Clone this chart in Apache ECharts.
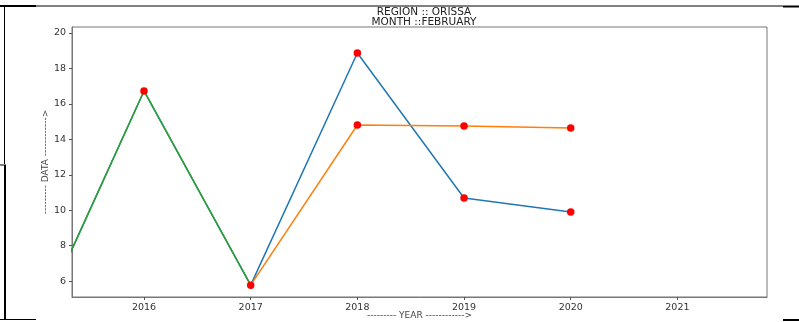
<!DOCTYPE html>
<html>
<head>
<meta charset="utf-8">
<script src="https://cdn.jsdelivr.net/npm/echarts@6/dist/echarts.min.js"></script>
<style>
  html, body { margin: 0; padding: 0; background: #fff; }
  #chart { width: 799px; height: 322px; }
</style>
</head>
<body>
<div id="chart"></div>
<script>
// Yearly rainfall data for Orissa, February
const years = [2015, 2016, 2017, 2018, 2019, 2020];
const actual = [3.5, 16.73, 5.77, 18.87, 10.69, 9.9];
const forecastYears = [2017, 2018, 2019, 2020];
const forecast = [5.77, 14.81, 14.75, 14.64];
const historyYears = [2015, 2016, 2017];
const history = [3.5, 16.73, 5.77];
const xTicks = [2016, 2017, 2018, 2019, 2020, 2021];
const yTicks = [6, 8, 10, 12, 14, 16, 18, 20];

const pairs = (xs, ys) => xs.map((x, i) => [x, ys[i]]);
const markerPoints = pairs(years.slice(1), actual.slice(1))
  .concat(pairs(forecastYears.slice(1), forecast.slice(1)));

const FONT = 'DejaVu Sans';
const chart = echarts.init(document.getElementById('chart'), null, { renderer: 'canvas' });

const frameLine = (x1, y1, x2, y2, w) => ({
  type: 'line', silent: true,
  shape: { x1, y1, x2, y2 },
  style: { stroke: '#000', lineWidth: w }
});

chart.setOption({
  animation: false,
  backgroundColor: '#fff',
  title: {
    text: 'REGION :: ORISSA\nMONTH ::FEBRUARY',
    left: 419, top: 2, textAlign: 'center',
    textStyle: { fontFamily: FONT, fontSize: 10.5, fontWeight: 'normal', color: '#222', lineHeight: 10 }
  },
  grid: {
    left: 72, right: 32, top: 27, bottom: 25,
    outerBoundsMode: 'none', containLabel: false,
    show: true, borderColor: '#777', borderWidth: 1, backgroundColor: 'transparent'
  },
  xAxis: {
    type: 'value', min: 2015.325, max: 2021.84,
    name: '--------- YEAR ------------>', nameLocation: 'middle', nameGap: 14,
    nameMoveOverlap: false,
    nameTextStyle: { fontFamily: FONT, fontSize: 9, color: '#444' },
    axisLine: { show: true, lineStyle: { color: '#777', width: 1 } },
    axisTick: { show: true, length: 3, customValues: xTicks, lineStyle: { color: '#555' } },
    axisLabel: { customValues: xTicks, fontFamily: FONT, fontSize: 9.5, color: '#333', margin: 6, formatter: v => String(v) },
    splitLine: { show: false }
  },
  yAxis: {
    type: 'value', min: 5.1, max: 20.34,
    name: '--------- DATA ------------>', nameLocation: 'middle', nameGap: 22,
    nameMoveOverlap: false,
    nameTextStyle: { fontFamily: FONT, fontSize: 9, color: '#444' },
    axisLine: { show: true, lineStyle: { color: '#777', width: 1 } },
    axisTick: { show: true, length: 3, customValues: yTicks, lineStyle: { color: '#555' } },
    axisLabel: { customValues: yTicks, fontFamily: FONT, fontSize: 9.5, color: '#333', margin: 6 },
    splitLine: { show: false }
  },
  series: [
    {
      type: 'line', data: pairs(years, actual), clip: true,
      showSymbol: false, lineStyle: { color: '#1f77b4', width: 1.5 }, z: 2
    },
    {
      type: 'line', data: pairs(forecastYears, forecast), clip: true,
      showSymbol: false, lineStyle: { color: '#ff7f0e', width: 1.5 }, z: 3
    },
    {
      type: 'line', data: pairs(historyYears, history), clip: true,
      showSymbol: false, lineStyle: { color: '#2ca02c', width: 1.5 }, z: 4
    },
    {
      type: 'scatter', data: markerPoints, symbolSize: 7.5,
      itemStyle: { color: '#ff0000', opacity: 1 }, z: 5
    }
  ],
  graphic: [
    frameLine(0, 6, 36, 6, 2),
    frameLine(36, 6, 783, 6, 1),
    frameLine(783, 6.5, 799, 6.5, 2),
    frameLine(4.5, 7, 4.5, 164, 1),
    frameLine(0, 165, 6, 165, 1),
    frameLine(5, 165, 5, 320, 2),
    frameLine(0, 319.5, 36, 319.5, 1),
    frameLine(783, 320, 799, 320, 2)
  ]
});
</script>
</body>
</html>
